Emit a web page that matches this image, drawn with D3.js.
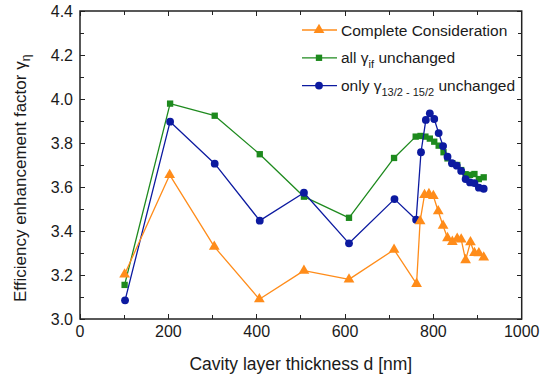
<!DOCTYPE html>
<html>
<head>
<meta charset="utf-8">
<script src="https://cdn.jsdelivr.net/npm/d3@7"></script>
<style>
  body { margin: 0; background: white; }
  svg text { font-family: "Liberation Sans", Arial, sans-serif; fill: #1a1a1a; }
</style>
</head>
<body>
<div id="chart"></div>
<script>
// cavity thickness d [nm] and enhancement factor for each series
var completeD = [101, 203, 304, 406, 507, 609, 711, 762, 770, 780, 790, 800, 811, 822, 832, 843, 854, 863, 873, 884, 893, 903, 914]
var completeV = [3.203, 3.655, 3.329, 3.09, 3.22, 3.18, 3.315, 3.16, 3.445, 3.564, 3.568, 3.559, 3.49, 3.424, 3.368, 3.351, 3.365, 3.362, 3.268, 3.349, 3.30, 3.299, 3.28]

var allD = [101, 204, 305, 407, 507, 609, 711, 760, 771, 782, 792, 802, 812, 823, 832, 843, 854, 863, 873, 883, 893, 903, 914]
var allV = [3.155, 3.979, 3.924, 3.749, 3.556, 3.46, 3.732, 3.829, 3.832, 3.829, 3.82, 3.806, 3.788, 3.758, 3.73, 3.708, 3.70, 3.677, 3.658, 3.655, 3.659, 3.636, 3.644]

var onlyD = [102, 204, 305, 407, 507, 609, 712, 761, 772, 783, 792, 802, 812, 822, 832, 842, 853, 863, 873, 883, 893, 903, 914]
var onlyV = [3.085, 3.897, 3.706, 3.447, 3.574, 3.344, 3.545, 3.451, 3.758, 3.905, 3.935, 3.909, 3.845, 3.786, 3.738, 3.708, 3.697, 3.673, 3.636, 3.621, 3.618, 3.597, 3.592]

var xTickLabels = [0, 200, 400, 600, 800, 1000]
var yTickLabels = [3.0, 3.2, 3.4, 3.6, 3.8, 4.0, 4.2, 4.4]

var W = 555, H = 381
var mLeft = 80, mTop = 11, plotW = 441.7, plotH = 308

var orange = '#ff8c1a', green = '#1e8a1e', blue = '#0c1aa0'

var svg = d3.select('#chart').append('svg')
  .attr('width', W)
  .attr('height', H)

var xMap = d3.scaleLinear().domain([0, 1000]).range([mLeft, mLeft + plotW])
var yMap = d3.scaleLinear().domain([3.0, 4.4]).range([mTop + plotH, mTop])

var minorX = d3.range(0, 1001, 100)
var minorY = d3.range(30, 45, 1).map(d => d / 10)

// ticks, all pointing inwards
var gTicks = svg.append('g')
  .style('stroke', '#222')
  .style('stroke-width', 1)
  .style('shape-rendering', 'crispEdges')

minorX.forEach(function(d) {
  var len = d % 200 === 0 ? 5 : 4
  gTicks.append('line')
    .attr('x1', xMap(d)).attr('x2', xMap(d))
    .attr('y1', mTop + plotH).attr('y2', mTop + plotH - len)
  gTicks.append('line')
    .attr('x1', xMap(d)).attr('x2', xMap(d))
    .attr('y1', mTop).attr('y2', mTop + len)
})

minorY.forEach(function(d) {
  var len = Math.round(d * 10) % 2 === 0 ? 5 : 4
  gTicks.append('line')
    .attr('y1', yMap(d)).attr('y2', yMap(d))
    .attr('x1', mLeft).attr('x2', mLeft + len)
  gTicks.append('line')
    .attr('y1', yMap(d)).attr('y2', yMap(d))
    .attr('x1', mLeft + plotW).attr('x2', mLeft + plotW - len)
})

svg.append('rect')
  .attr('x', mLeft)
  .attr('y', mTop)
  .attr('width', plotW)
  .attr('height', plotH)
  .style('fill', 'none')
  .style('stroke', '#222')
  .style('stroke-width', 1.5)

// tick labels
svg.append('g').selectAll('text')
  .data(xTickLabels).enter().append('text')
  .attr('x', d => xMap(d))
  .attr('y', mTop + plotH + 18)
  .style('font-size', '16px')
  .style('text-anchor', 'middle')
  .text(d => d)

svg.append('g').selectAll('text')
  .data(yTickLabels).enter().append('text')
  .attr('x', mLeft - 7)
  .attr('y', d => yMap(d) + 6)
  .style('font-size', '16px')
  .style('text-anchor', 'end')
  .text(d => d.toFixed(1))

// axis titles
svg.append('text')
  .attr('x', mLeft + plotW / 2)
  .attr('y', 370)
  .style('font-size', '17.5px')
  .style('text-anchor', 'middle')
  .text('Cavity layer thickness d [nm]')

var yTitle = svg.append('text')
  .attr('transform', 'translate(26,302) rotate(-90)')
  .style('font-size', '17px')
  .style('text-anchor', 'start')
yTitle.append('tspan').text('Efficiency enhancement factor \u03b3')
yTitle.append('tspan')
  .attr('dy', 4)
  .style('font-size', '12px')
  .text('\u03b7')

// series
function drawSeries(ds, vs, color, marker) {
  var data = ds.map((d, i) => ({ d: d, v: vs[i] }))
  var g = svg.append('g')

  var line = d3.line()
    .x(p => xMap(p.d))
    .y(p => yMap(p.v))

  g.append('path')
    .datum(data)
    .style('fill', 'none')
    .style('stroke', color)
    .style('stroke-width', 1.3)
    .style('stroke-linejoin', 'round')
    .attr('d', line)

  g.selectAll('path.m')
    .data(data).enter().append('path')
    .attr('class', 'm')
    .attr('transform', p => 'translate(' + [xMap(p.d), yMap(p.v)] + ')')
    .attr('d', marker)
    .style('fill', color)
}

var triangle = d3.symbol().type(d3.symbolTriangle).size(50)()
var square = d3.symbol().type(d3.symbolSquare).size(40)()
var circle = d3.symbol().type(d3.symbolCircle).size(48)()

drawSeries(allD, allV, green, square)
drawSeries(onlyD, onlyV, blue, circle)
drawSeries(completeD, completeV, orange, triangle)

// legend
var legend = [
  { color: orange, marker: triangle, text: 'Complete Consideration', sub: null, tail: '' },
  { color: green, marker: square, text: 'all \u03b3', sub: 'if', tail: ' unchanged' },
  { color: blue, marker: circle, text: 'only \u03b3', sub: '13/2 - 15/2', tail: ' unchanged' }
]

var gLeg = svg.append('g')
var legRow = gLeg.selectAll('g')
  .data(legend).enter().append('g')
  .attr('transform', (d, i) => 'translate(' + [302, 30 + i * 27.8] + ')')

legRow.append('line')
  .attr('x1', 0).attr('x2', 35)
  .style('stroke', d => d.color)
  .style('stroke-width', 1.3)

legRow.append('path')
  .attr('transform', 'translate(17,0)')
  .attr('d', d => d.marker)
  .style('fill', d => d.color)

var legText = legRow.append('text')
  .attr('x', 39)
  .attr('y', 5.5)
  .style('font-size', '15.5px')

legText.append('tspan').text(d => d.text)
legText.filter(d => d.sub).append('tspan')
  .attr('dy', 5)
  .style('font-size', '11px')
  .text(d => d.sub)
legText.filter(d => d.sub).append('tspan')
  .attr('dy', -5)
  .text(d => d.tail)
</script>
</body>
</html>
